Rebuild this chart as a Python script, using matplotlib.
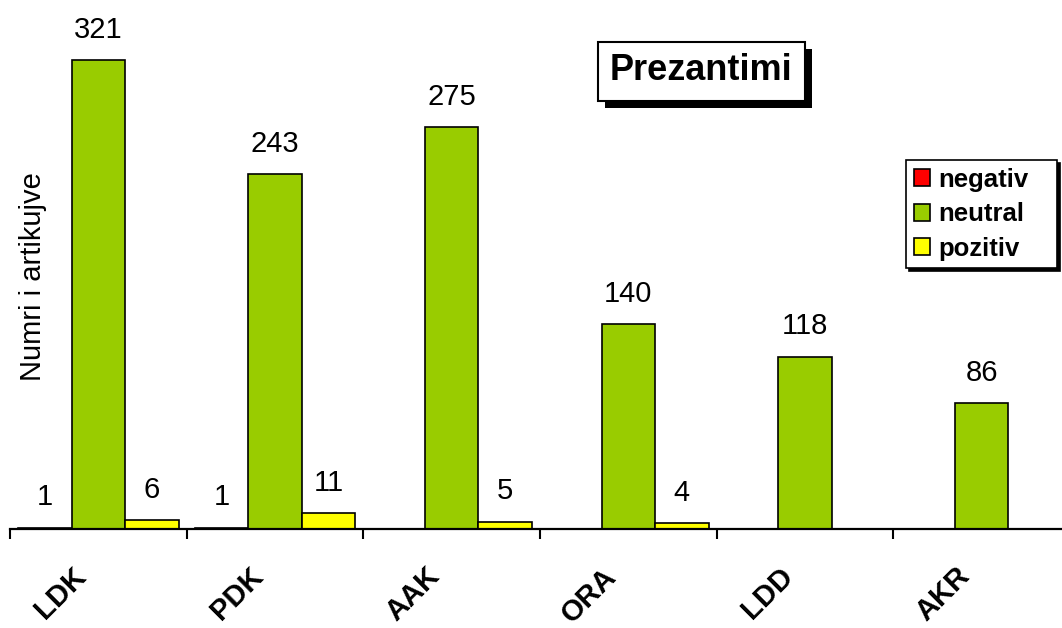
import numpy as np
import matplotlib
matplotlib.use("Agg")
import matplotlib.pyplot as plt
from matplotlib.patches import Patch, Rectangle

plt.rcParams['font.family'] = ['Liberation Sans', 'DejaVu Sans']

categories = ["LDK", "PDK", "AAK", "ORA", "LDD", "AKR"]
negativ = [1, 1, 0, 0, 0, 0]
neutral = [321, 243, 275, 140, 118, 86]
pozitiv = [6, 11, 5, 4, 0, 0]

series = [("negativ", negativ, "#FF0000"),
          ("neutral", neutral, "#99CC00"),
          ("pozitiv", pozitiv, "#FFFF00")]

W, H = 1062, 628
fig = plt.figure(figsize=(W / 100, H / 100), dpi=100)
ax = fig.add_axes([10 / W, (H - 529) / H, 1060 / W, 529 / H])

x = np.arange(len(categories)) + 0.5
bw = 0.303
for i, (name, vals, col) in enumerate(series):
    xs = x + (i - 1) * bw
    ax.bar(xs, vals, width=bw, color=col, edgecolor="black", linewidth=1.2, label=name)
    for xx, v in zip(xs, vals):
        if v > 0:
            ax.annotate(str(v), (xx, v), xytext=(0, 16), textcoords="offset points",
                        ha="center", va="baseline", fontsize=21)

ax.set_xlim(0, len(categories))
ax.set_ylim(0, 362)
for s in ["top", "left", "right"]:
    ax.spines[s].set_visible(False)
ax.spines["bottom"].set_linewidth(1.6)
ax.set_yticks([])
ax.set_xticks(np.arange(len(categories) + 1))
ax.set_xticklabels([])
ax.tick_params(axis="x", direction="out", length=7, width=1.5)

# category labels, rotated
for xx, lab in zip(x, categories):
    ax.annotate(lab, (xx, 0), xycoords=("data", "axes fraction"),
                xytext=(-12, -31), textcoords="offset points",
                ha="right", va="center", rotation=45, rotation_mode="anchor",
                fontsize=21, fontweight="bold", annotation_clip=False)

fig.text(33 / W, 1 - 277 / H, "Numri i artikujve", rotation=90,
         ha="center", va="center", fontsize=21)

# title box with shadow
fig.patches.append(Rectangle((605 / W, 1 - 108 / H), 207 / W, 59 / H,
                             transform=fig.transFigure, facecolor="black", edgecolor="none"))
fig.patches.append(Rectangle((598 / W, 1 - 101 / H), 207 / W, 59 / H,
                             transform=fig.transFigure, facecolor="white",
                             edgecolor="black", linewidth=1.5))
fig.text(701 / W, 1 - 70 / H, "Prezantimi", ha="center", va="center",
         fontsize=26, fontweight="bold")

handles = [Patch(facecolor=c, edgecolor="black", linewidth=1.2) for _, _, c in series]
leg = fig.legend(handles, [n for n, _, _ in series], loc="upper left", mode="expand",
                 bbox_to_anchor=(906 / W, 1 - 268 / H, 151 / W, 108 / H),
                 bbox_transform=fig.transFigure,
                 prop={"size": 18.5, "weight": "bold"}, handlelength=0.65,
                 handleheight=0.65, handletextpad=0.3, labelspacing=0.41,
                 borderpad=0.3, borderaxespad=0, fancybox=False,
                 shadow={"color": "black", "alpha": 1}, framealpha=1)
leg.get_frame().set_edgecolor("black")
leg.get_frame().set_linewidth(1.2)

fig.savefig("out.png", dpi=100)
